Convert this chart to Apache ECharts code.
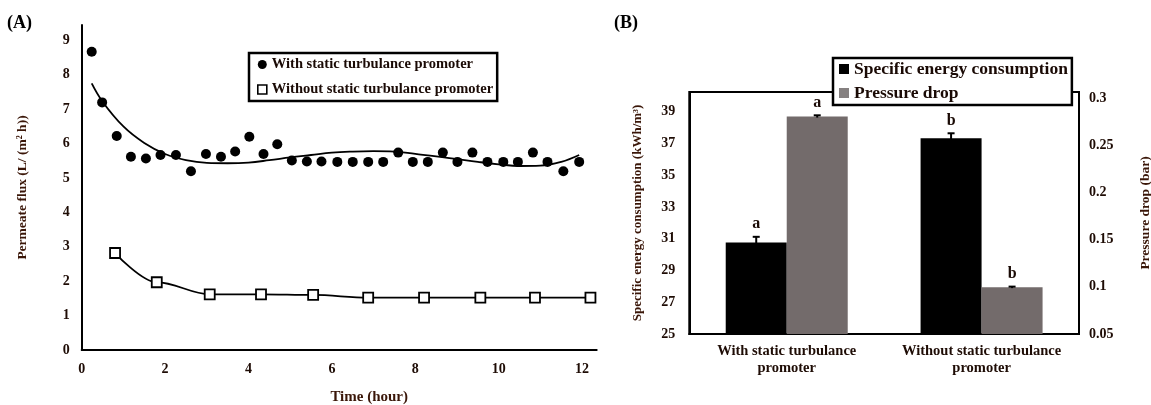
<!DOCTYPE html>
<html>
<head>
<meta charset="utf-8">
<script src="https://cdn.jsdelivr.net/npm/echarts@6/dist/echarts.min.js"></script>
<style>
html,body{margin:0;padding:0;background:#fff;}
#chart{width:1151px;height:405px;}
</style>
</head>
<body>
<div id="chart"></div>
<script>
// ---------- Panel A data ----------
const timeWith = [0.24, 0.49, 0.84, 1.18, 1.54, 1.89, 2.26, 2.62, 2.98, 3.34, 3.68, 4.02, 4.36, 4.69, 5.04, 5.40, 5.75, 6.13, 6.50, 6.87, 7.23, 7.59, 7.94, 8.30, 8.66, 9.01, 9.37, 9.73, 10.11, 10.46, 10.82, 11.17, 11.55, 11.93];
const fluxWith = [8.67, 7.20, 6.22, 5.62, 5.57, 5.67, 5.67, 5.20, 5.70, 5.62, 5.77, 6.20, 5.70, 5.98, 5.51, 5.48, 5.48, 5.47, 5.47, 5.47, 5.47, 5.74, 5.47, 5.47, 5.74, 5.47, 5.74, 5.47, 5.47, 5.47, 5.74, 5.47, 5.20, 5.47];
const trendTime = [0.24, 0.5, 1.0, 1.5, 2.0, 2.5, 3.0, 3.5, 4.0, 4.5, 5.0, 5.5, 6.0, 6.5, 7.0, 7.5, 8.0, 8.5, 9.0, 9.5, 10.0, 10.5, 11.0, 11.5, 11.93];
const trendFlux = [7.75, 7.22, 6.50, 6.02, 5.70, 5.52, 5.44, 5.43, 5.45, 5.52, 5.60, 5.67, 5.74, 5.77, 5.78, 5.77, 5.70, 5.63, 5.55, 5.47, 5.40, 5.35, 5.36, 5.47, 5.67];
const timeWithout = [0.8, 1.8, 3.07, 4.3, 5.55, 6.87, 8.21, 9.56, 10.87, 12.2];
const fluxWithout = [2.82, 1.97, 1.62, 1.62, 1.60, 1.52, 1.52, 1.52, 1.52, 1.52];
const xTicksA = [0, 2, 4, 6, 8, 10, 12];

// ---------- Panel B data ----------
const categoriesB = ['With static turbulance\npromoter', 'Without static turbulance\npromoter'];
const energy = [30.77, 37.32];
const energyErr = [0.35, 0.32];
const energyLetters = ['a', 'b'];
const pressure = [0.2805, 0.0994];
const pressureErr = [0.0012, 0.0008];
const pressureLetters = ['a', 'b'];

const FONT = 'Liberation Serif';
const TITLE_COLOR = '#3a1608';
const TICK_COLOR = '#1e0c05';
const BAR_W = 61;

const pair = (xs, ys) => xs.map((x, i) => [x, ys[i]]);

function errRenderer(offsetSign, letters) {
  return function (params, api) {
    const idx = api.value(0);
    const val = api.value(1);
    const err = api.value(2);
    const hi = api.coord([idx, val + err]);
    const lo = api.coord([idx, val - err]);
    const x = hi[0] + offsetSign * BAR_W / 2;
    const cap = 3.5;
    return {
      type: 'group',
      children: [
        {type: 'line', shape: {x1: x, y1: lo[1], x2: x, y2: hi[1]}, style: {stroke: '#000', lineWidth: 2}},
        {type: 'line', shape: {x1: x - cap, y1: hi[1], x2: x + cap, y2: hi[1]}, style: {stroke: '#000', lineWidth: 2}},
        {type: 'text', x: x, y: hi[1] - 12.5, style: {text: letters[params.dataIndex], fontFamily: FONT, fontWeight: 'bold', fontSize: 16, fill: '#1a0a05', align: 'center', verticalAlign: 'middle'}}
      ]
    };
  };
}

const chart = echarts.init(document.getElementById('chart'), null, {renderer: 'canvas'});

const option = {
  backgroundColor: '#fff',
  animation: false,
  title: [
    {text: '(A)', left: 7, top: 14, padding: 0, textStyle: {fontFamily: FONT, fontWeight: 'bold', fontSize: 18, color: '#000'}},
    {text: '(B)', left: 614, top: 14, padding: 0, textStyle: {fontFamily: FONT, fontWeight: 'bold', fontSize: 18, color: '#000'}}
  ],
  legend: [
    {
      data: [
        {name: 'With static turbulance promoter', icon: 'circle', itemStyle: {color: '#000'}},
        {name: 'Without static turbulance promoter', icon: 'rect', itemStyle: {color: '#fff', borderColor: '#000', borderWidth: 1.6}}
      ],
      orient: 'vertical', left: 249, top: 53,
      padding: [4, 4, 4, 8], itemGap: 10, itemWidth: 9, itemHeight: 9,
      borderColor: '#000', borderWidth: 2.5, backgroundColor: '#fff',
      selectedMode: false,
      textStyle: {fontFamily: FONT, fontWeight: 'bold', fontSize: 14.5, color: '#1a0a05', lineHeight: 15}
    },
    {
      data: [
        {name: 'Specific energy consumption', icon: 'rect', itemStyle: {color: '#000'}},
        {name: 'Pressure drop', icon: 'rect', itemStyle: {color: '#858080'}}
      ],
      orient: 'vertical', left: 833, top: 58,
      padding: [2, 4, 3, 6], itemGap: 6, itemWidth: 10, itemHeight: 10,
      borderColor: '#000', borderWidth: 2.5, backgroundColor: '#fff',
      selectedMode: false,
      textStyle: {fontFamily: FONT, fontWeight: 'bold', fontSize: 17.5, color: '#1a0a05', lineHeight: 18}
    }
  ],
  grid: [
    {left: 81.7, top: 25, width: 515, height: 325, containLabel: false, outerBoundsMode: 'none'},
    {left: 689.3, top: 92, right: 72, height: 242, containLabel: false, outerBoundsMode: 'none', show: true, borderColor: '#000', borderWidth: 2, backgroundColor: 'transparent'}
  ],
  xAxis: [
    {
      type: 'value', gridIndex: 0, min: 0, max: 12.35, interval: 2,
      name: 'Time (hour)', nameLocation: 'middle', nameGap: 40,
      nameTextStyle: {fontFamily: FONT, fontWeight: 'bold', fontSize: 15, color: TITLE_COLOR, padding: [0, 0, 0, 60]},
      axisLine: {show: true, onZero: false, lineStyle: {color: '#000', width: 2}},
      axisTick: {show: false}, splitLine: {show: false},
      axisLabel: {showMaxLabel: false, margin: 12, fontFamily: FONT, fontWeight: 'bold', fontSize: 14, color: TICK_COLOR,
        formatter: v => (xTicksA.indexOf(v) >= 0 ? String(v) : '')}
    },
    {
      type: 'category', gridIndex: 1, data: categoriesB,
      axisLine: {show: true, lineStyle: {color: '#000', width: 2}},
      axisTick: {show: false}, splitLine: {show: false},
      axisLabel: {interval: 0, margin: 9, fontFamily: FONT, fontWeight: 'bold', fontSize: 14.5, color: TICK_COLOR, lineHeight: 17}
    }
  ],
  yAxis: [
    {
      type: 'value', gridIndex: 0, min: 0, max: 9.45, interval: 1,
      name: 'Permeate flux (L/ (m² h))', nameLocation: 'middle', nameGap: 52,
      nameTextStyle: {fontFamily: FONT, fontWeight: 'bold', fontSize: 13.5, color: TITLE_COLOR},
      axisLine: {show: true, onZero: false, lineStyle: {color: '#000', width: 2}},
      axisTick: {show: false}, splitLine: {show: false},
      axisLabel: {showMaxLabel: false, margin: 12, fontFamily: FONT, fontWeight: 'bold', fontSize: 14, color: TICK_COLOR}
    },
    {
      type: 'value', gridIndex: 1, position: 'left', min: 25, max: 40.24, interval: 2,
      name: 'Specific energy consumption (kWh/m³)', nameLocation: 'middle', nameGap: 45,
      nameTextStyle: {fontFamily: FONT, fontWeight: 'bold', fontSize: 13, color: TITLE_COLOR},
      axisLine: {show: true, onZero: false, lineStyle: {color: '#000', width: 2}},
      axisTick: {show: false}, splitLine: {show: false},
      axisLabel: {showMaxLabel: false, margin: 14, fontFamily: FONT, fontWeight: 'bold', fontSize: 14, color: TICK_COLOR}
    },
    {
      type: 'value', gridIndex: 1, position: 'right', min: 0.05, max: 0.3064, interval: 0.05,
      name: 'Pressure drop (bar)', nameLocation: 'middle', nameGap: 60,
      nameTextStyle: {fontFamily: FONT, fontWeight: 'bold', fontSize: 13.5, color: TITLE_COLOR},
      axisLine: {show: true, onZero: false, lineStyle: {color: '#000', width: 2}},
      axisTick: {show: false}, splitLine: {show: false},
      axisLabel: {showMaxLabel: false, margin: 10, fontFamily: FONT, fontWeight: 'bold', fontSize: 14, color: TICK_COLOR,
        formatter: v => String(parseFloat(v.toFixed(2)))}
    }
  ],
  series: [
    {
      name: 'trendWith', type: 'line', xAxisIndex: 0, yAxisIndex: 0,
      data: pair(trendTime, trendFlux), smooth: 0.4, showSymbol: false, symbol: 'none',
      lineStyle: {color: '#000', width: 1.8}, silent: true, z: 2
    },
    {
      name: 'With static turbulance promoter', type: 'scatter', xAxisIndex: 0, yAxisIndex: 0,
      data: pair(timeWith, fluxWith), symbol: 'circle', symbolSize: 10,
      itemStyle: {color: '#000', opacity: 1}, z: 3
    },
    {
      name: 'Without static turbulance promoter', type: 'line', xAxisIndex: 0, yAxisIndex: 0,
      data: pair(timeWithout, fluxWithout), smooth: 0.35, smoothMonotone: 'x',
      symbol: 'rect', symbolSize: 10, showSymbol: true,
      lineStyle: {color: '#000', width: 1.8},
      itemStyle: {color: '#fff', borderColor: '#000', borderWidth: 1.8}, z: 3
    },
    {
      name: 'Specific energy consumption', type: 'bar', xAxisIndex: 1, yAxisIndex: 1,
      data: energy, barWidth: BAR_W, barGap: '0%', itemStyle: {color: '#000'}, z: 2
    },
    {
      name: 'Pressure drop', type: 'bar', xAxisIndex: 1, yAxisIndex: 2,
      data: pressure, barWidth: BAR_W, barGap: '0%', itemStyle: {color: '#736b6b'}, z: 2
    },
    {
      name: 'energyErr', type: 'custom', xAxisIndex: 1, yAxisIndex: 1,
      data: energy.map((v, i) => [i, v, energyErr[i]]),
      renderItem: errRenderer(-1, energyLetters), z: 5, silent: true
    },
    {
      name: 'pressureErr', type: 'custom', xAxisIndex: 1, yAxisIndex: 2,
      data: pressure.map((v, i) => [i, v, pressureErr[i]]),
      renderItem: errRenderer(1, pressureLetters), z: 5, silent: true
    }
  ]
};
chart.setOption(option);
</script>
</body>
</html>
